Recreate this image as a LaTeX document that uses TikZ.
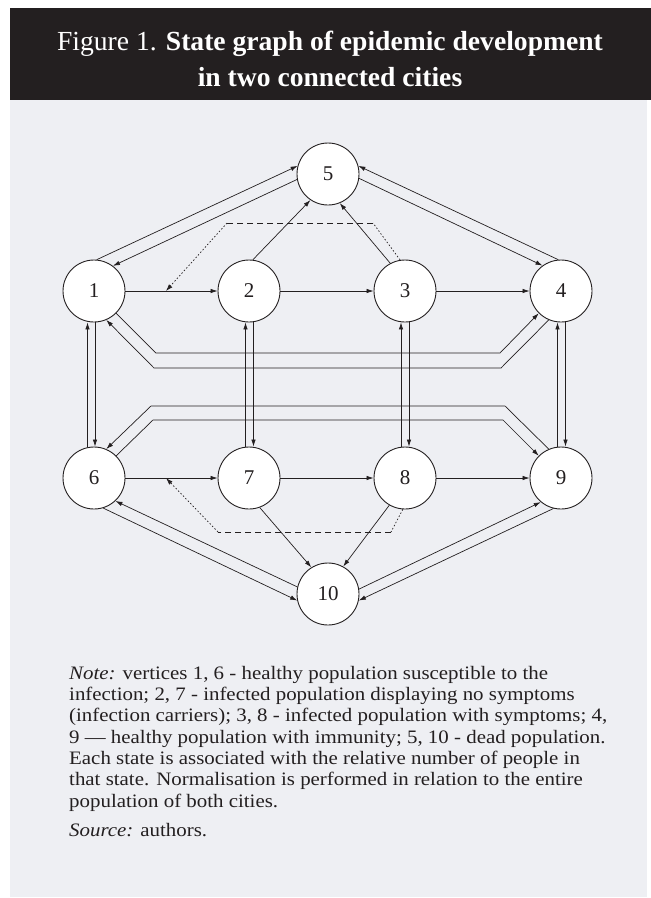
\documentclass[tikz,border=0pt]{standalone}
\usepackage{fontspec}
\setmainfont{Liberation Serif}
\newfontfamily\notefont[FakeStretch=1.1]{Liberation Serif}
\usetikzlibrary{arrows.meta,calc}
\definecolor{panelgrey}{RGB}{238,239,243}
\definecolor{titleblack}{RGB}{35,31,32}
\definecolor{inkc}{RGB}{35,31,32}
\begin{document}
\begin{tikzpicture}[x=1pt,y=-1pt,
  state/.style={circle,draw=inkc,line width=0.9pt,fill=white,minimum size=62pt,inner sep=0pt,text=inkc,font=\fontsize{21}{21}\selectfont},
  arr/.style={draw=inkc,line width=0.7pt,-{Latex[length=7pt,width=4.5pt]}},
  dotseg/.style={draw=inkc,line width=0.7pt,dash pattern=on 1.5pt off 2pt},
  dashseg/.style={draw=inkc,line width=0.8pt,dash pattern=on 6pt off 4pt},
  titletext/.style={anchor=base,text=white,font=\fontsize{27.6}{27.6}\selectfont},
  notetext/.style={anchor=base west,text=inkc,inner sep=0pt,font=\notefont\fontsize{19}{21}\selectfont},
]
\useasboundingbox (0,0) rectangle (651,898);
\fill[white] (0,0) rectangle (651,898);
\fill[panelgrey] (10,100) rectangle (647,897);
\fill[titleblack] (10,8) rectangle (651,100);
\node[titletext] (t1) at (330,50) {Figure 1. \textbf{State graph of epidemic development}};
\node[titletext] (t2) at (330,86) {\textbf{in two connected cities}};

% states
\node[state] (n1) at (94,291) {1};
\node[state] (n2) at (249,291) {2};
\node[state] (n3) at (405,291) {3};
\node[state] (n4) at (561,291) {4};
\node[state] (n5) at (328,174) {5};
\node[state] (n6) at (94,478) {6};
\node[state] (n7) at (249,478) {7};
\node[state] (n8) at (405,478) {8};
\node[state] (n9) at (561,478) {9};
\node[state] (n10) at (328,594) {10};

% top connections
\draw[arr] (n1.85) -- (n5.165);
\draw[arr] (n5.190) -- (n1.53);
\draw[arr] (n2.83) -- (n5.236);
\draw[arr] (n3.118) -- (n5.292);
\draw[arr] (n4.95) -- (n5.15);
\draw[arr] (n5.352) -- (n4.126);
\draw[arr] (n1) -- (n2);
\draw[arr] (n2) -- (n3);
\draw[arr] (n3) -- (n4);

% bottom row
\draw[arr] (n6) -- (n7);
\draw[arr] (n7) -- (n8);
\draw[arr] (n8) -- (n9);
\draw[arr] (n6.287) -- (n10.192);
\draw[arr] (n10.167) -- (n6.313);
\draw[arr] (n10.9) -- (n9.230);
\draw[arr] (n9.256) -- (n10.348);
\draw[arr] (n7.290) -- (n10.122);
\draw[arr] (n8.240) -- (n10.61);

% vertical pairs
\draw[arr] ([xshift=-6.5pt]n6.north) -- ([xshift=-6.5pt]n1.south);
\draw[arr] ([xshift=1pt]n1.south) -- ([xshift=1pt]n6.north);
\draw[arr] ([xshift=-3.5pt]n7.north) -- ([xshift=-3.5pt]n2.south);
\draw[arr] ([xshift=4.5pt]n2.south) -- ([xshift=4.5pt]n7.north);
\draw[arr] ([xshift=-4pt]n8.north) -- ([xshift=-4pt]n3.south);
\draw[arr] ([xshift=4pt]n3.south) -- ([xshift=4pt]n8.north);
\draw[arr] ([xshift=-3.5pt]n9.north) -- ([xshift=-3.5pt]n4.south);
\draw[arr] ([xshift=4.5pt]n4.south) -- ([xshift=4.5pt]n9.north);

% long connections between the cities
\coordinate (a1) at (156,353);
\coordinate (a2) at (500,353);
\draw[arr] (n1.-45) -- (a1) -- (a2) -- (n4.225);
\coordinate (b1) at (154,368);
\coordinate (b2) at (501,368);
\draw[arr] (n4.247) -- (b2) -- (b1) -- (n1.293);
\coordinate (c1) at (151,406);
\coordinate (c2) at (505,406);
\draw[arr] (n9.113) -- (c2) -- (c1) -- (n6.67);
\coordinate (d1) at (153,420);
\coordinate (d2) at (503,420);
\draw[arr] (n6.45) -- (d1) -- (d2) -- (n9.135);

% dotted influence links
\coordinate (m12) at ($(n1.east)!0.44!(n2.west)$);
\coordinate (p1) at (373,223);
\coordinate (p2) at (227,223);
\draw[dotseg] (n3.99) -- (p1);
\draw[dashseg] (p1) -- (p2);
\draw[dotseg,-{Latex[length=7pt,width=4.5pt]}] (p2) -- (m12);

\coordinate (m67) at ($(n6.east)!0.44!(n7.west)$);
\coordinate (q1) at (391,532);
\coordinate (q2) at (218,532);
\draw[dotseg] (n8.266) -- (q1);
\draw[dashseg] (q1) -- (q2);
\draw[dotseg,-{Latex[length=7pt,width=4.5pt]}] (q2) -- (m67);

% note
\node[notetext] (l1) at (69,679.3) {\textit{Note:} vertices 1, 6 - healthy population susceptible to the};
\node[notetext] (l2) at (69,700.6) {infection; 2, 7 - infected population displaying no symptoms};
\node[notetext] (l3) at (69,721.9) {(infection carriers); 3, 8 - infected population with symptoms; 4,};
\node[notetext] (l4) at (69,743.2) {9 — healthy population with immunity; 5, 10 - dead population.};
\node[notetext] (l5) at (69,764.5) {Each state is associated with the relative number of people in};
\node[notetext] (l6) at (69,785.8) {that state. Normalisation is performed in relation to the entire};
\node[notetext] (l7) at (69,807.1) {population of both cities.};
\node[notetext] (l8) at (69,836.5) {\textit{Source:} authors.};
\end{tikzpicture}
\end{document}
